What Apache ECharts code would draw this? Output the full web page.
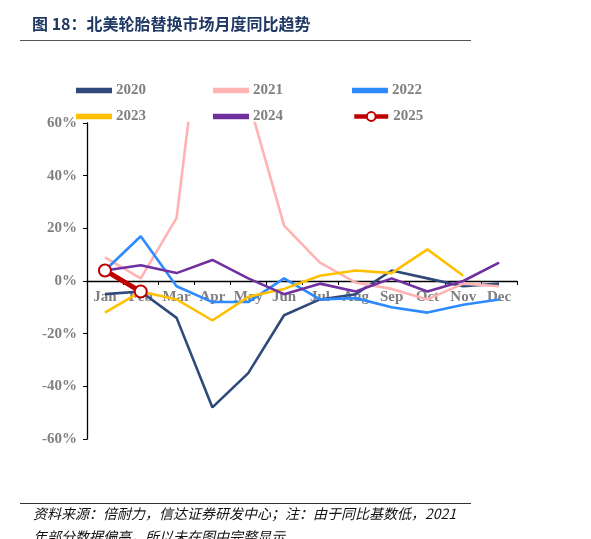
<!DOCTYPE html>
<html><head><meta charset="utf-8">
<script src="https://cdn.jsdelivr.net/npm/echarts@6/dist/echarts.min.js"></script>
<style>html,body{margin:0;padding:0;background:#fff;}#c{width:591px;height:539px;}</style>
</head><body><div id="c"></div>
<script>
const months = ['Jan','Feb','Mar','Apr','May','Jun','Jul','Aug','Sep','Oct','Nov','Dec'];
const yTicks = [-60,-40,-20,0,20,40,60];
const s2020 = [-5,-4,-14,-48,-35,-13,-7,-5,4,1,-2,-1];
const s2021 = [9,1,24,135,69,21,7,-0.6,-3,-7,-1,-2];
const s2022 = [4,17,-2,-8,-8,1,-7,-6.5,-10,-12,-9,-7];
const s2023 = [-12,-4,-7,-15,-6,-3,2,4,3,12,2,null];
const s2024 = [4,6,3,8,1,-5,-1,-4,1,-4,0,7];
const s2025 = [4,-4,null,null,null,null,null,null,null,null,null,null];
const names = ['2020','2021','2022','2023','2024','2025'];
const colors = ['#2F4A7A','#FFB3B3','#2E8BFF','#FFC000','#7030A0','#C00000'];

const chart = echarts.init(document.getElementById('c'));
const serifGray = {fontFamily:'Liberation Serif', fontWeight:'bold', color:'#7F7F7F', fontSize:15};
const legendPos = [[71,78],[208,78],[347,78],[71,104],[208,104],[347,104]];
const allData = [s2020,s2021,s2022,s2023,s2024,s2025];
const gridTop = 123, gridBottom = 100, H = 539;
const plotH = H - gridTop - gridBottom;
const zeroOffset = -plotH * (0 - yTicks[0]) / (yTicks[yTicks.length-1] - yTicks[0]);

chart.setOption({
  animation:false,
  graphic:[
    {type:'text', left:32, top:16, style:{text:'图 18：北美轮胎替换市场月度同比趋势', fontFamily:'Noto Sans CJK SC', fontWeight:'bold', fontSize:16, fill:'#1F3864'}},
    {type:'line', shape:{x1:20,y1:40.5,x2:471,y2:40.5}, style:{stroke:'#555',lineWidth:1.2}},
    {type:'line', shape:{x1:20,y1:503.5,x2:471,y2:503.5}, style:{stroke:'#333',lineWidth:1.2}},
    {type:'text', left:33, top:507, style:{text:'资料来源：倍耐力，信达证券研发中心；注：由于同比基数低，2021', fontFamily:'Noto Sans CJK SC', fontStyle:'italic', fontSize:14, fill:'#111'}},
    {type:'text', left:33, top:530, style:{text:'年部分数据偏高，所以未在图中完整显示', fontFamily:'Noto Sans CJK SC', fontStyle:'italic', fontSize:14, fill:'#111'}}
  ],
  legend: names.map((n,i)=>({
    data:[i===5 ? {name:n} : {name:n, icon:'rect'}],
    left:legendPos[i][0], top:legendPos[i][1], itemWidth:34, itemHeight: i===5 ? 11 : 3.5, itemGap:10,
    lineStyle: i===5 ? {width:4.5} : undefined,
    textStyle:{fontFamily:'Liberation Serif', fontWeight:'bold', color:'#7F7F7F', fontSize:15}
  })),
  grid:{left:87, right:74, top:gridTop, bottom:gridBottom},
  xAxis:{type:'category', data:months, boundaryGap:true, position:'bottom', offset: zeroOffset,
    axisLine:{onZero:false, lineStyle:{color:'#000', width:1.3}},
    axisTick:{show:true, inside:false, length:4, lineStyle:{color:'#000'}},
    axisLabel:Object.assign({margin:9, interval:0}, serifGray)},
  yAxis:{type:'value', min:yTicks[0], max:yTicks[yTicks.length-1], interval:20,
    axisLine:{show:true, lineStyle:{color:'#000', width:1.3}},
    axisTick:{show:true, length:4, lineStyle:{color:'#000'}},
    splitLine:{show:false},
    axisLabel:Object.assign({margin:10, formatter:v=>v+'%'}, serifGray)},
  series: names.map((n,i)=>({
    name:n, type:'line', data:allData[i], clip:true,
    symbol: i===5 ? 'emptyCircle' : 'none', symbolSize: 12, showSymbol: i===5,
    itemStyle:{color:colors[i], borderColor:colors[i], borderWidth:1.5},
    lineStyle:{color:colors[i], width: i===5 ? 5 : 2.6},
    z: i===5 ? 10 : 2+i*0.1
  }))
});
</script></body></html>
